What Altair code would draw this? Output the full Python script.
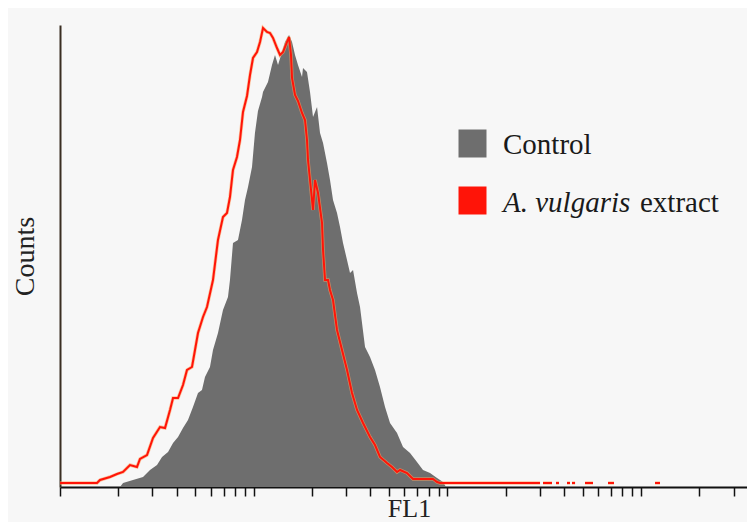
import altair as alt
import pandas as pd

# ---- data ----
control_fl1 = [2.041, 2.115, 2.381, 2.683, 2.915, 3.168, 3.362, 3.612, 3.833, 4.068,
               4.315, 4.579, 4.859, 5.157, 5.408, 5.604, 5.947, 6.163, 6.540, 6.940,
               7.365, 7.542, 7.817, 8.296, 8.700, 9.017, 9.346, 9.800, 10.15, 10.52,
               11.04, 11.17, 11.85, 12.43, 12.88, 13.35, 14.00, 14.51, 15.22, 15.77,
               16.34, 16.93, 17.76, 17.97, 18.84, 19.53, 20.24, 21.23, 22.00, 22.80,
               23.90, 24.77, 25.67, 26.92, 27.90, 28.91, 30.32, 31.42, 32.57, 34.15,
               35.39, 37.56, 39.85, 42.29, 44.87, 47.64, 50.55, 54.94, 59.00, 64.12,
               69.66, 74.82, 81.33, 88.38, 94.91, 98.36]
control_counts = [0, 4, 7, 10, 17, 22, 30, 35, 44, 50,
                  59, 67, 80, 94, 97, 110, 120, 137, 154, 177,
                  190, 207, 244, 247, 267, 287, 300, 320, 354, 376,
                  390, 395, 405, 422, 432, 422, 435, 445, 452, 445,
                  432, 422, 410, 419, 415, 395, 370, 380, 354, 344,
                  324, 307, 287, 274, 260, 244, 227, 214, 217, 194,
                  180, 140, 130, 117, 100, 80, 64, 54, 40, 34,
                  25, 17, 14, 9, 5, 0]

extract_fl1 = [1, 1.429, 1.552, 1.609, 1.812, 1.969, 2.115, 2.298, 2.497, 2.588,
               2.813, 3.021, 3.283, 3.485, 3.698, 3.833, 4.068, 4.315, 4.525, 4.802,
               4.977, 5.157, 5.473, 5.739, 6.163, 6.540, 6.940, 7.278, 7.542, 7.817,
               8.198, 8.496, 8.805, 9.235, 9.570, 9.917, 10.40, 10.78, 11.17, 11.71,
               12.14, 12.58, 13.19, 13.67, 14.17, 14.86, 15.22, 15.58, 15.77, 16.34,
               16.93, 17.76, 18.40, 18.84, 19.07, 19.53, 20.24, 20.73, 21.48, 22.53,
               22.80, 23.35, 24.19, 24.77, 25.67, 26.92, 28.57, 30.32, 32.18, 34.15,
               36.68, 39.85, 42.29, 44.87, 48.78, 51.76, 54.94, 56.93, 61.87, 66.45,
               72.19, 84.28, 88.38, 91.59, 300.7]
extract_counts = [4, 4, 4, 7, 10, 13, 15, 22, 20, 28,
                  32, 49, 60, 59, 77, 89, 89, 102, 117, 120,
                  137, 154, 170, 180, 207, 247, 270, 274, 290, 317,
                  330, 347, 375, 391, 412, 429, 435, 445, 459, 455,
                  454, 449, 439, 432, 435, 445, 450, 432, 409, 392,
                  386, 374, 367, 347, 327, 307, 277, 307, 294, 264,
                  237, 207, 207, 197, 187, 157, 137, 117, 94, 77,
                  64, 50, 42, 30, 24, 20, 15, 17, 14, 8,
                  8, 8, 5, 4, 4]
# sparse events at the high end (short runs of low counts)
extract_dash_start = [311.6, 363.6, 414.4, 439.8, 513.3, 674.6, 1180]
extract_dash_end = [346.7, 376.8, 429.5, 456.0, 564.6, 724.6, 1252]
extract_dash_count = [4, 4, 4, 4, 4, 4, 4]

tick_values = [1, 2, 3, 4, 5, 6, 7, 8, 9,
               10, 20, 30, 40, 50, 60, 70, 80, 90,
               100, 200, 300, 400, 500, 600, 700, 800, 900,
               1000, 2000, 3000]
x_domain = [1, 3521]
y_domain = [0, 462]

series_names = ["Control", "A. vulgaris", "extract"]
series_colors = ["#6e6e6e", "#ff1408"]

# ---- tables ----
ctrl = pd.DataFrame({"FL1": control_fl1, "Counts": control_counts})
rows = [{"FL1": f, "Counts": c, "seg": 0} for f, c in zip(extract_fl1, extract_counts)]
for i, (s, e, c) in enumerate(zip(extract_dash_start, extract_dash_end, extract_dash_count)):
    rows.append({"FL1": s, "Counts": c, "seg": i + 1})
    rows.append({"FL1": e, "Counts": c, "seg": i + 1})
ext = pd.DataFrame(rows)

FONT = "Liberation Serif"

x_enc = alt.X(
    "FL1:Q",
    scale=alt.Scale(type="log", domain=x_domain, nice=False),
    axis=alt.Axis(values=tick_values, labels=False, grid=False, tickSize=9,
                  tickColor="#111111", tickWidth=1.5, domainColor="#111111",
                  domainWidth=2, title="FL1", titleFont=FONT, titleFontSize=26,
                  titleFontWeight="normal", titleColor="#222222",
                  titleBaseline="alphabetic", titleY=29, titleX=349),
)
y_enc = alt.Y(
    "Counts:Q",
    scale=alt.Scale(domain=y_domain, nice=False),
    axis=alt.Axis(labels=False, ticks=False, grid=False, domainColor="#3a2e22",
                  domainWidth=2, title="Counts", titleFont=FONT, titleFontSize=28,
                  titleFontWeight="normal", titleColor="#222222", titlePadding=21),
)

area = alt.Chart(ctrl).mark_area(color=series_colors[0], opacity=1,
                                 interpolate="linear").encode(x=x_enc, y=y_enc)

halo = alt.Chart(ext).mark_line(color="#ffa060", strokeWidth=3.4, opacity=0.6).encode(
    x="FL1:Q", y="Counts:Q", detail="seg:N")
line = alt.Chart(ext).mark_line(color=series_colors[1], strokeWidth=2).encode(
    x="FL1:Q", y="Counts:Q", detail="seg:N")

leg_sq = alt.Chart(pd.DataFrame({"name": series_names[:2], "color": series_colors,
                                 "py": [118.5, 175.5]})).mark_square(
    size=784, opacity=1).encode(
    x=alt.value(412.5), y=alt.Y("py:Q", scale=None),
    color=alt.Color("color:N", scale=None))

leg_t1 = alt.Chart(pd.DataFrame({"t": [series_names[0]]})).mark_text(
    font=FONT, fontSize=29, align="left", baseline="alphabetic", color="#1a1a1a").encode(
    x=alt.value(443), y=alt.value(129), text="t:N")
leg_t2 = alt.Chart(pd.DataFrame({"t": [series_names[1]]})).mark_text(
    font=FONT, fontSize=29, fontStyle="italic", align="left", baseline="alphabetic",
    color="#1a1a1a").encode(x=alt.value(443), y=alt.value(187), text="t:N")
leg_t3 = alt.Chart(pd.DataFrame({"t": [series_names[2]]})).mark_text(
    font=FONT, fontSize=29, align="left", baseline="alphabetic", color="#1a1a1a").encode(
    x=alt.value(580), y=alt.value(187), text="t:N")

chart = alt.layer(area, halo, line, leg_sq, leg_t1, leg_t2, leg_t3).properties(
    width=687, height=462,
    autosize=alt.AutoSizeParams(type="none"),
    padding={"left": 52, "top": 17, "right": 0, "bottom": 35},
    background="#f7f7f7",
).configure_view(stroke=None)

chart.save("out.html", embed_options={"renderer": "svg", "actions": False})
